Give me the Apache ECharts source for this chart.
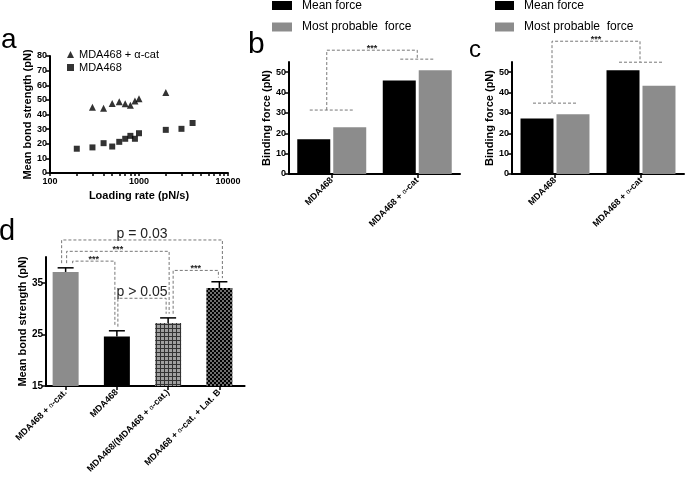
<!DOCTYPE html>
<html>
<head>
<meta charset="utf-8">
<script src="https://cdn.jsdelivr.net/npm/echarts@6/dist/echarts.min.js"></script>
<style>
  html, body { margin: 0; padding: 0; background: #fff; }
  #main { width: 685px; height: 485px; }
</style>
</head>
<body>
<div id="main"></div>
<script>
// ---- panel a: bond strength vs loading rate
var rateCat = [300, 400, 500, 600, 700, 800, 900, 1000, 2000];
var strengthCat = [45, 44.2, 47.6, 48.8, 47.4, 46.3, 49.2, 50.8, 55.1];
var rateCtl = [200, 300, 400, 500, 600, 700, 800, 900, 1000, 2000, 3000, 4000];
var strengthCtl = [16.6, 17.5, 20.4, 18.1, 21.3, 23.4, 25.4, 23.4, 27.2, 29.5, 30.2, 34.2];
var rateTicks = [100, 200, 300, 400, 500, 600, 700, 800, 900, 1000,
                 2000, 3000, 4000, 5000, 6000, 7000, 8000, 9000, 10000];
var rateLabels = [100, 1000, 10000];

// ---- panels b, c: binding force
var groups = ['MDA468', 'MDA468 + α-cat'];
var meanB = [17.1, 45.9];
var probB = [23, 51];
var meanC = [27.3, 51];
var probC = [29.4, 43.3];
var forceTicks = [0, 10, 20, 30, 40, 50];

// ---- panel d: mean bond strength with sem
var conds = ['MDA468 + α-cat.', 'MDA468', 'MDA468/(MDA468 + α-cat.)', 'MDA468 + α-cat. + Lat. B'];
var meanD = [37.1, 24.6, 27.2, 34.0];
var semD = [0.8, 1.1, 1.0, 1.2];
var dTicks = [15, 25, 35];

var FONT = '"Liberation Sans", Arial, sans-serif';
var GRAY = '#8c8c8c';

function makePattern(draw) {
  var c = document.createElement('canvas');
  c.width = 4; c.height = 4;
  draw(c.getContext('2d'));
  return c;
}
var gridPat = makePattern(function (ctx) {
  ctx.fillStyle = '#a0a0a0'; ctx.fillRect(0, 0, 4, 4);
  ctx.fillStyle = '#333'; ctx.fillRect(0, 0, 4, 1); ctx.fillRect(0, 0, 1, 4);
});
var checkPat = makePattern(function (ctx) {
  ctx.fillStyle = '#6e6e6e'; ctx.fillRect(0, 0, 4, 4);
  ctx.fillStyle = '#000'; ctx.fillRect(0, 0, 2, 2); ctx.fillRect(2, 2, 2, 2);
});
var dFill = [GRAY, '#000', { image: gridPat, repeat: 'repeat' }, { image: checkPat, repeat: 'repeat' }];

var richA = { g: { fontSize: 7, fontWeight: 'normal', color: '#000', fontFamily: FONT } };
function catFmt(v) { return v.replace('α', '{g|α}'); }

function axisBase(gi, extra) {
  var o = {
    gridIndex: gi,
    splitLine: { show: false },
    axisLine: { show: true, onZero: false, lineStyle: { color: '#000', width: 2 } },
    axisTick: { show: true, length: 4, lineStyle: { color: '#000', width: 1.5 } },
    axisLabel: { color: '#000', fontSize: 9, fontWeight: 'bold', fontFamily: FONT, margin: 3 },
    nameLocation: 'middle',
    nameTextStyle: { color: '#000', fontSize: 11, fontWeight: 'bold', fontFamily: FONT }
  };
  for (var k in extra) {
    if (typeof extra[k] === 'object' && o[k] && !Array.isArray(extra[k])) {
      o[k] = Object.assign({}, o[k], extra[k]);
    } else {
      o[k] = extra[k];
    }
  }
  return o;
}

function catAxis(gi, data, extra) {
  return axisBase(gi, Object.assign({
    type: 'category', data: data,
    axisTick: { alignWithLabel: true, length: 4 },
    axisLabel: { rotate: 45, interval: 0, formatter: catFmt, rich: richA, margin: 5 }
  }, extra || {}));
}

var chart = echarts.init(document.getElementById('main'));

var option = {
  animation: false,
  backgroundColor: '#fff',
  grid: [
    { left: 50, top: 56, width: 178, height: 117 },
    { left: 289, top: 62, width: 171, height: 112 },
    { left: 512, top: 62, width: 172, height: 112 },
    { left: 40, top: 257, width: 205, height: 129 }
  ],
  legend: [
    {
      data: [{ name: 'MDA468 + α-cat', icon: 'triangle' }, { name: 'MDA468', icon: 'rect' }],
      orient: 'vertical', left: 62, top: 43, itemWidth: 7, itemHeight: 7, itemGap: 0,
      selectedMode: false,
      textStyle: { fontSize: 11, color: '#000', fontFamily: FONT, lineHeight: 13 }
    },
    {
      data: ['Mean force', 'Most probable  force'], icon: 'rect',
      orient: 'vertical', left: 267, top: -5.5, itemWidth: 20, itemHeight: 9, itemGap: 9.5,
      selectedMode: false,
      textStyle: { fontSize: 12, color: '#000', fontFamily: FONT, padding: [0, 0, 0, 5] }
    },
    {
      data: ['Mean force', 'Most probable  force'], icon: 'rect',
      orient: 'vertical', left: 490, top: -5.5, itemWidth: 19, itemHeight: 9, itemGap: 9.5,
      selectedMode: false,
      textStyle: { fontSize: 12, color: '#000', fontFamily: FONT, padding: [0, 0, 0, 5] }
    }
  ],
  xAxis: [
    axisBase(0, {
      type: 'log', logBase: 10, min: 100, max: 10000,
      name: 'Loading rate (pN/s)', nameGap: 17,
      axisTick: { length: 3, customValues: rateTicks },
      axisLabel: { customValues: rateLabels, margin: 4, formatter: function (v) { return String(v); } }
    }),
    catAxis(1, groups),
    catAxis(2, groups),
    catAxis(3, conds, { axisLine: { show: false } })
  ],
  yAxis: [
    axisBase(0, { type: 'value', min: 0, max: 80, interval: 10, name: 'Mean bond strength (pN)', nameGap: 17 }),
    axisBase(1, {
      type: 'value', min: 0, max: 55, name: 'Binding force (pN)', nameGap: 15,
      axisTick: { customValues: forceTicks },
      axisLabel: { customValues: forceTicks }
    }),
    axisBase(2, {
      type: 'value', min: 0, max: 55, name: 'Binding force (pN)', nameGap: 15,
      axisTick: { customValues: forceTicks },
      axisLabel: { customValues: forceTicks }
    }),
    axisBase(3, {
      type: 'value', min: 15, max: 40, name: 'Mean bond strength (pN)', nameGap: 18, offset: -6,
      axisTick: { customValues: dTicks },
      axisLabel: { customValues: dTicks, fontSize: 10 }
    })
  ],
  series: [
    {
      name: 'MDA468 + α-cat', type: 'scatter', xAxisIndex: 0, yAxisIndex: 0,
      symbol: 'triangle', symbolSize: 7, itemStyle: { color: '#000' },
      data: rateCat.map(function (r, i) { return [r, strengthCat[i]]; })
    },
    {
      name: 'MDA468', type: 'scatter', xAxisIndex: 0, yAxisIndex: 0,
      symbol: 'rect', symbolSize: 6, itemStyle: { color: '#000' },
      data: rateCtl.map(function (r, i) { return [r, strengthCtl[i]]; })
    },
    { name: 'Mean force', type: 'bar', xAxisIndex: 1, yAxisIndex: 1, barWidth: 33, barGap: '9%',
      itemStyle: { color: '#000' }, data: meanB },
    { name: 'Most probable  force', type: 'bar', xAxisIndex: 1, yAxisIndex: 1, barWidth: 33, barGap: '9%',
      itemStyle: { color: GRAY }, data: probB },
    { name: 'Mean force', type: 'bar', xAxisIndex: 2, yAxisIndex: 2, barWidth: 33, barGap: '9%',
      itemStyle: { color: '#000' }, data: meanC },
    { name: 'Most probable  force', type: 'bar', xAxisIndex: 2, yAxisIndex: 2, barWidth: 33, barGap: '9%',
      itemStyle: { color: GRAY }, data: probC },
    {
      name: 'd', type: 'bar', xAxisIndex: 3, yAxisIndex: 3, barWidth: 26,
      data: meanD.map(function (v, i) { return { value: v, itemStyle: { color: dFill[i] } }; })
    },
    {
      name: 'sem', type: 'custom', xAxisIndex: 3, yAxisIndex: 3, z: 5,
      data: meanD.map(function (v, i) { return [i, v, semD[i]]; }),
      renderItem: function (params, api) {
        var base = api.coord([api.value(0), api.value(1)]);
        var top = api.coord([api.value(0), api.value(1) + api.value(2)]);
        var st = { stroke: '#000', lineWidth: 1.5 };
        return {
          type: 'group',
          children: [
            { type: 'line', shape: { x1: base[0], y1: base[1], x2: top[0], y2: top[1] }, style: st },
            { type: 'line', shape: { x1: top[0] - 8, y1: top[1], x2: top[0] + 8, y2: top[1] }, style: st }
          ]
        };
      }
    }
  ]
};
chart.setOption(option);

// significance brackets, anchored to the axes
var DASH = { stroke: '#777', lineWidth: 1, lineDash: [3, 2], fill: null };
var gfx = [];

function px(gi, cat, val) {
  return chart.convertToPixel({ xAxisIndex: gi, yAxisIndex: gi }, [cat, val]);
}
function addLabel(x, y, text, size, weight) {
  gfx.push({
    type: 'text', x: x, y: y,
    style: { text: text, font: (weight || 'normal') + ' ' + size + 'px ' + FONT,
             fill: '#222', align: 'center', verticalAlign: 'bottom' }
  });
}

// d x-axis line starts at the shifted y axis
var dLeft = px(3, 0, 15), dRight = px(3, 3, 15);
gfx.push({ type: 'line', shape: { x1: 45, y1: dLeft[1], x2: dRight[0] + 26, y2: dLeft[1] },
           style: { stroke: '#000', lineWidth: 2 } });

// [catA, catB, top, bottomA, bottomB, shiftA, shiftB, label]
var dBrackets = [
  [0, 3, 43.3, 38.8, 35.9, -4, 3, 'p = 0.03'],
  [0, 2, 41.1, 38.8, 29.0, 1, 1, '***'],
  [0, 1, 39.2, 38.8, 26.5, 7, -2, '***'],
  [1, 2, 32.0, 26.5, 29.0, 1, -2, 'p > 0.05'],
  [2, 3, 37.4, 29.0, 36.0, 5, -1, '***']
];
dBrackets.forEach(function (b) {
  var a0 = px(3, b[0], b[3]), aT = px(3, b[0], b[2]);
  var b0 = px(3, b[1], b[4]), bT = px(3, b[1], b[2]);
  var xa = a0[0] + b[5], xb = b0[0] + b[6];
  gfx.push({ type: 'polyline', shape: { points: [[xa, a0[1]], [xa, aT[1]], [xb, bT[1]], [xb, b0[1]]] }, style: DASH });
  if (b[7] === '***') addLabel((xa + xb) / 2, aT[1] + 3, b[7], 9, 'bold');
  else addLabel((xa + xb) / 2, aT[1] + 1, b[7], 14);
});

// b and c: group lines joined by one bracket
[[1, 60.8, 31.4, 56.4, -5, 0, 22, 17], [2, 65.2, 34.8, 54.9, -3, -1, 22, 22]].forEach(function (b) {
  var g = b[0];
  var lT = px(g, 0, b[1]), lB = px(g, 0, b[2]);
  var rT = px(g, 1, b[1]), rB = px(g, 1, b[3]);
  var xl = lT[0] + b[4], xr = rT[0] + b[5];
  gfx.push({ type: 'polyline', shape: { points: [[xl, lB[1]], [xl, lT[1]], [xr, rT[1]], [xr, rB[1]]] }, style: DASH });
  gfx.push({ type: 'line', shape: { x1: lB[0] - b[6], y1: lB[1], x2: lB[0] + b[6], y2: lB[1] }, style: DASH });
  gfx.push({ type: 'line', shape: { x1: rB[0] - b[7], y1: rB[1], x2: rB[0] + b[7], y2: rB[1] }, style: DASH });
  addLabel((xl + xr) / 2, lT[1] + 3, '***', 9, 'bold');
});

// panel letters
[['a', 1, 40, 28], ['b', 248, 45, 30], ['c', 469, 50, 24], ['d', -1, 232, 29]].forEach(function (p) {
  gfx.push({
    type: 'text', x: p[1], y: p[2],
    style: { text: p[0], font: 'normal ' + p[3] + 'px ' + FONT, fill: '#000', align: 'left', verticalAlign: 'middle' }
  });
});

chart.setOption({ graphic: gfx });
</script>
</body>
</html>
